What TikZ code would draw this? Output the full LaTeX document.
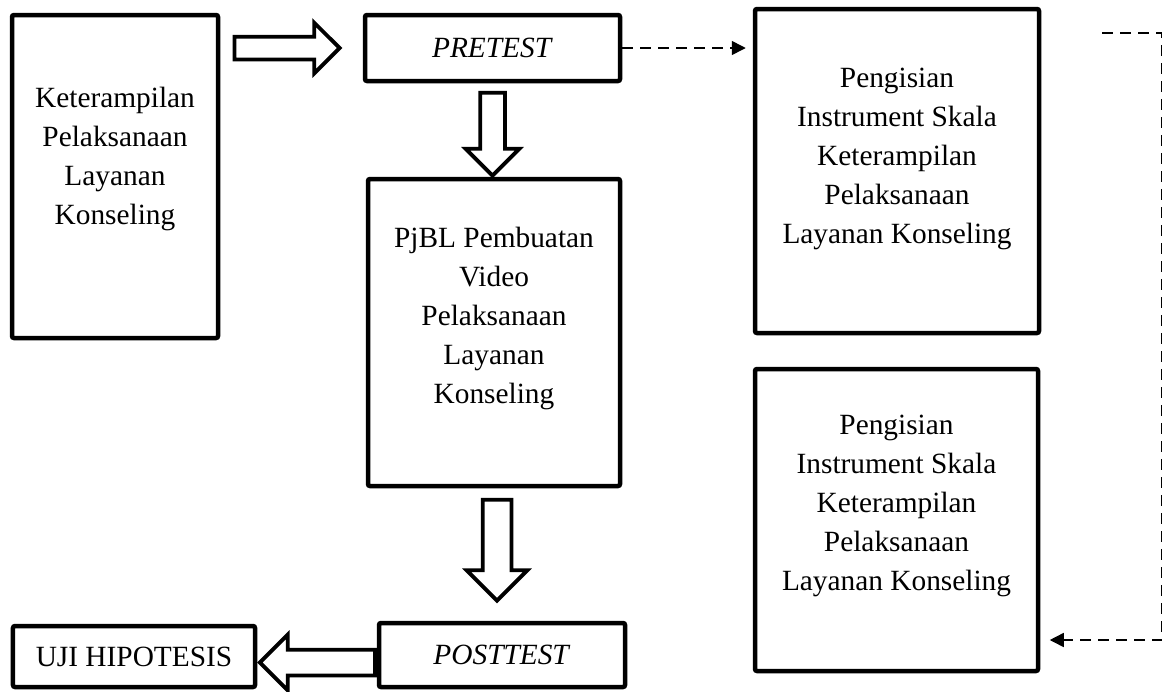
\documentclass[tikz,border=0pt]{standalone}
\usepackage{fontspec}
\setmainfont{Liberation Serif}
\usetikzlibrary{shapes.arrows,arrows.meta}

\begin{document}
\begin{tikzpicture}[
    box/.style={draw, line width=0.09cm, rounded corners=0.04cm, inner sep=0pt},
    txt/.style={align=center, font=\fontsize{16.7pt}{22.2pt}\selectfont},
    blkarrow/.style={single arrow, draw, line width=0.075cm, inner xsep=0pt, single arrow tip angle=90, minimum width=0pt},
    dasharr/.style={line width=0.03cm, dash pattern=on 0.22cm off 0.14cm, -{Triangle[length=0.28cm,width=0.28cm]}}
  ]
          \useasboundingbox (0,0) rectangle (23.24,-13.82);
          %
          \node[box, minimum width=4.12cm, minimum height=6.46cm] (ket) at (2.30, -3.53) {};
          \node[txt] (ketlbl) at ([yshift=0.36cm]ket.center) {Keterampilan \\ Pelaksanaan \\ Layanan \\ Konseling};
          \node[box, txt, minimum width=5.10cm, minimum height=1.32cm] (pretest) at (9.85, -0.96) {\textit{PRETEST}};
          \node[box, minimum width=5.04cm, minimum height=6.14cm] (pjbl) at (9.88, -6.65) {};
          \node[txt] (pjbllbl) at ([yshift=0.28cm]pjbl.center) {PjBL Pembuatan \\ Video \\ Pelaksanaan \\ Layanan \\ Konseling};
          \node[box, txt, minimum width=4.92cm, minimum height=1.28cm] (posttest) at (10.04, -13.10) {\textit{POSTTEST}};
          \node[box, txt, minimum width=4.84cm, minimum height=1.22cm] (uji) at (2.68, -13.13) {UJI HIPOTESIS};
          \node[box, minimum width=5.68cm, minimum height=6.48cm] (isi1) at (17.94, -3.42) {};
          \node[txt] (isi1lbl) at ([yshift=0.24cm]isi1.center) {Pengisian \\ Instrument Skala \\ Keterampilan \\ Pelaksanaan \\ Layanan Konseling};
          \node[box, minimum width=5.66cm, minimum height=6.04cm] (isi2) at (17.93, -10.40) {};
          \node[txt] (isi2lbl) at ([yshift=0.29cm]isi2.center) {Pengisian \\ Instrument Skala \\ Keterampilan \\ Pelaksanaan \\ Layanan Konseling};
          %
          \node[blkarrow, inner ysep=0.19cm, single arrow head extend=0.28cm, minimum height=2.10cm, anchor=tip] (arrket) at ([xshift=-0.41cm]pretest.west) {};
          \node[blkarrow, rotate=-90, inner ysep=0.21cm, single arrow head extend=0.29cm, minimum height=1.66cm, anchor=tail] (arrpre) at ([yshift=-0.15cm]pretest.south) {};
          \node[blkarrow, rotate=-90, inner ysep=0.25cm, single arrow head extend=0.32cm, minimum height=2.02cm, anchor=tail] (arrpjbl) at ([xshift=0.06cm, yshift=-0.19cm]pjbl.south) {};
          \node[blkarrow, rotate=180, inner ysep=0.22cm, single arrow head extend=0.30cm, minimum height=2.30cm, anchor=tail] (arrpost) at ([yshift=-0.15cm]posttest.west) {};
          %
          \coordinate (dtop) at (22.04, -0.66);
          \coordinate (dright) at (23.235, -0.66);
          \draw[dasharr, shorten >=0.14cm] (pretest.east) -- (pretest.east -| isi1.west);
          \draw[dasharr, shorten >=0.19cm] (dtop) -- (dright) |- ([yshift=-2.40cm]isi2.east);
        \end{tikzpicture}
\end{document}
